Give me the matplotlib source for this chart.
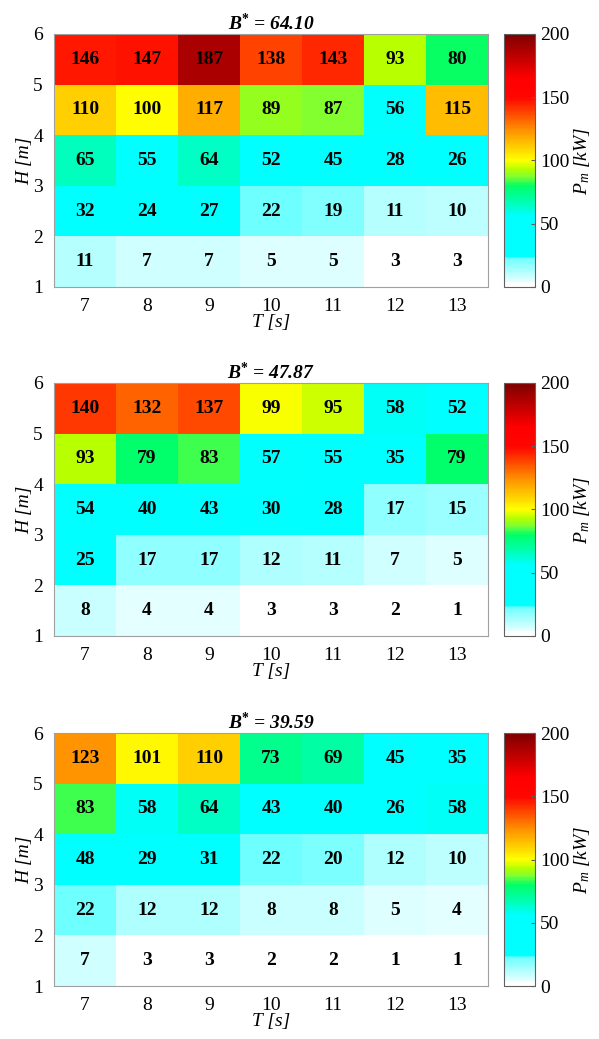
import matplotlib.pyplot as plt
import numpy as np
from matplotlib.colors import LinearSegmentedColormap

plt.rcParams['font.family'] = ['Liberation Serif', 'DejaVu Serif']
plt.rcParams['mathtext.fontset'] = 'custom'
plt.rcParams['mathtext.rm'] = 'Liberation Serif'
plt.rcParams['mathtext.it'] = 'Liberation Serif:italic'
plt.rcParams['mathtext.bf'] = 'Liberation Serif:bold'
plt.rcParams['mathtext.bfit'] = 'Liberation Serif:bold:italic'

periods = [7, 8, 9, 10, 11, 12, 13]
heights = [1, 2, 3, 4, 5, 6]
titles = ["64.10", "47.87", "39.59"]

# rows from H 1-2 (bottom) up to H 5-6 (top)
power_1 = [[11, 7, 7, 5, 5, 3, 3],
           [32, 24, 27, 22, 19, 11, 10],
           [65, 55, 64, 52, 45, 28, 26],
           [110, 100, 117, 89, 87, 56, 115],
           [146, 147, 187, 138, 143, 93, 80]]
power_2 = [[8, 4, 4, 3, 3, 2, 1],
           [25, 17, 17, 12, 11, 7, 5],
           [54, 40, 43, 30, 28, 17, 15],
           [93, 79, 83, 57, 55, 35, 79],
           [140, 132, 137, 99, 95, 58, 52]]
power_3 = [[7, 3, 3, 2, 2, 1, 1],
           [22, 12, 12, 8, 8, 5, 4],
           [48, 29, 31, 22, 20, 12, 10],
           [83, 58, 64, 43, 40, 26, 58],
           [123, 101, 110, 73, 69, 45, 35]]

# white -> cyan -> green -> yellow -> red -> dark red
anchors = [(0, (1, 1, 1)), (3.2, (1, 1, 1)), (3.4, (0.91, 1, 1)),
           (22.5, (0.42, 1, 1)), (24, (0, 1, 1)), (56, (0, 1, 1)),
           (65, (0, 1, 0.75)), (80, (0, 1, 0.4)), (87, (0.5, 1, 0.2)),
           (93, (0.7, 1, 0)), (100, (1, 1, 0)), (125, (1, 0.55, 0)),
           (150, (1, 0.02, 0)), (165, (1, 0, 0)), (200, (0.5, 0, 0))]
cmap = LinearSegmentedColormap.from_list(
    "pm", [(v / 200, c) for v, c in anchors], N=200)

fig = plt.figure(figsize=(5.99, 10.39), dpi=100)
bottoms = [0.7238, 0.3879, 0.0510]
xe = np.arange(6.5, 14.0, 1.0)
ye = np.array(heights, dtype=float)

for data, b, t in zip([power_1, power_2, power_3], bottoms, titles):
    ax = fig.add_axes([0.0902, b, 0.7245, 0.2435])
    z = np.array(data)
    m = ax.pcolormesh(xe, ye, z, cmap=cmap, vmin=0, vmax=200)
    for i in range(z.shape[0]):
        for j in range(z.shape[1]):
            ax.text(periods[j], heights[i] + 0.5, str(z[i, j]), ha='center',
                    va='center', fontsize=14, fontweight='bold')
    ax.set_xticks(periods)
    ax.set_yticks(heights)
    ax.tick_params(labelsize=14, length=0, pad=8)
    for s in ax.spines.values():
        s.set_color('#a0a0a0')
    ax.set_xlabel('T [s]', fontsize=14, style='italic', labelpad=-1)
    ax.set_ylabel('H [m]', fontsize=14, style='italic', labelpad=0)
    ax.set_title(r'$\mathbfit{B}^{\mathbf{*}}$ = ' + t,
                 fontsize=14, fontweight='bold', style='italic', pad=3)
    cax = fig.add_axes([0.8414, b, 0.0518, 0.2435])
    cb = fig.colorbar(m, cax=cax, ticks=[0, 50, 100, 150, 200])
    cb.outline.set_edgecolor('#606060')
    cax.tick_params(labelsize=14, direction='in', length=3, color='#606060')
    cb.set_label(r'$P_m$ [kW]', fontsize=14, style='italic', labelpad=2)

fig.savefig('out.png', dpi=100)
